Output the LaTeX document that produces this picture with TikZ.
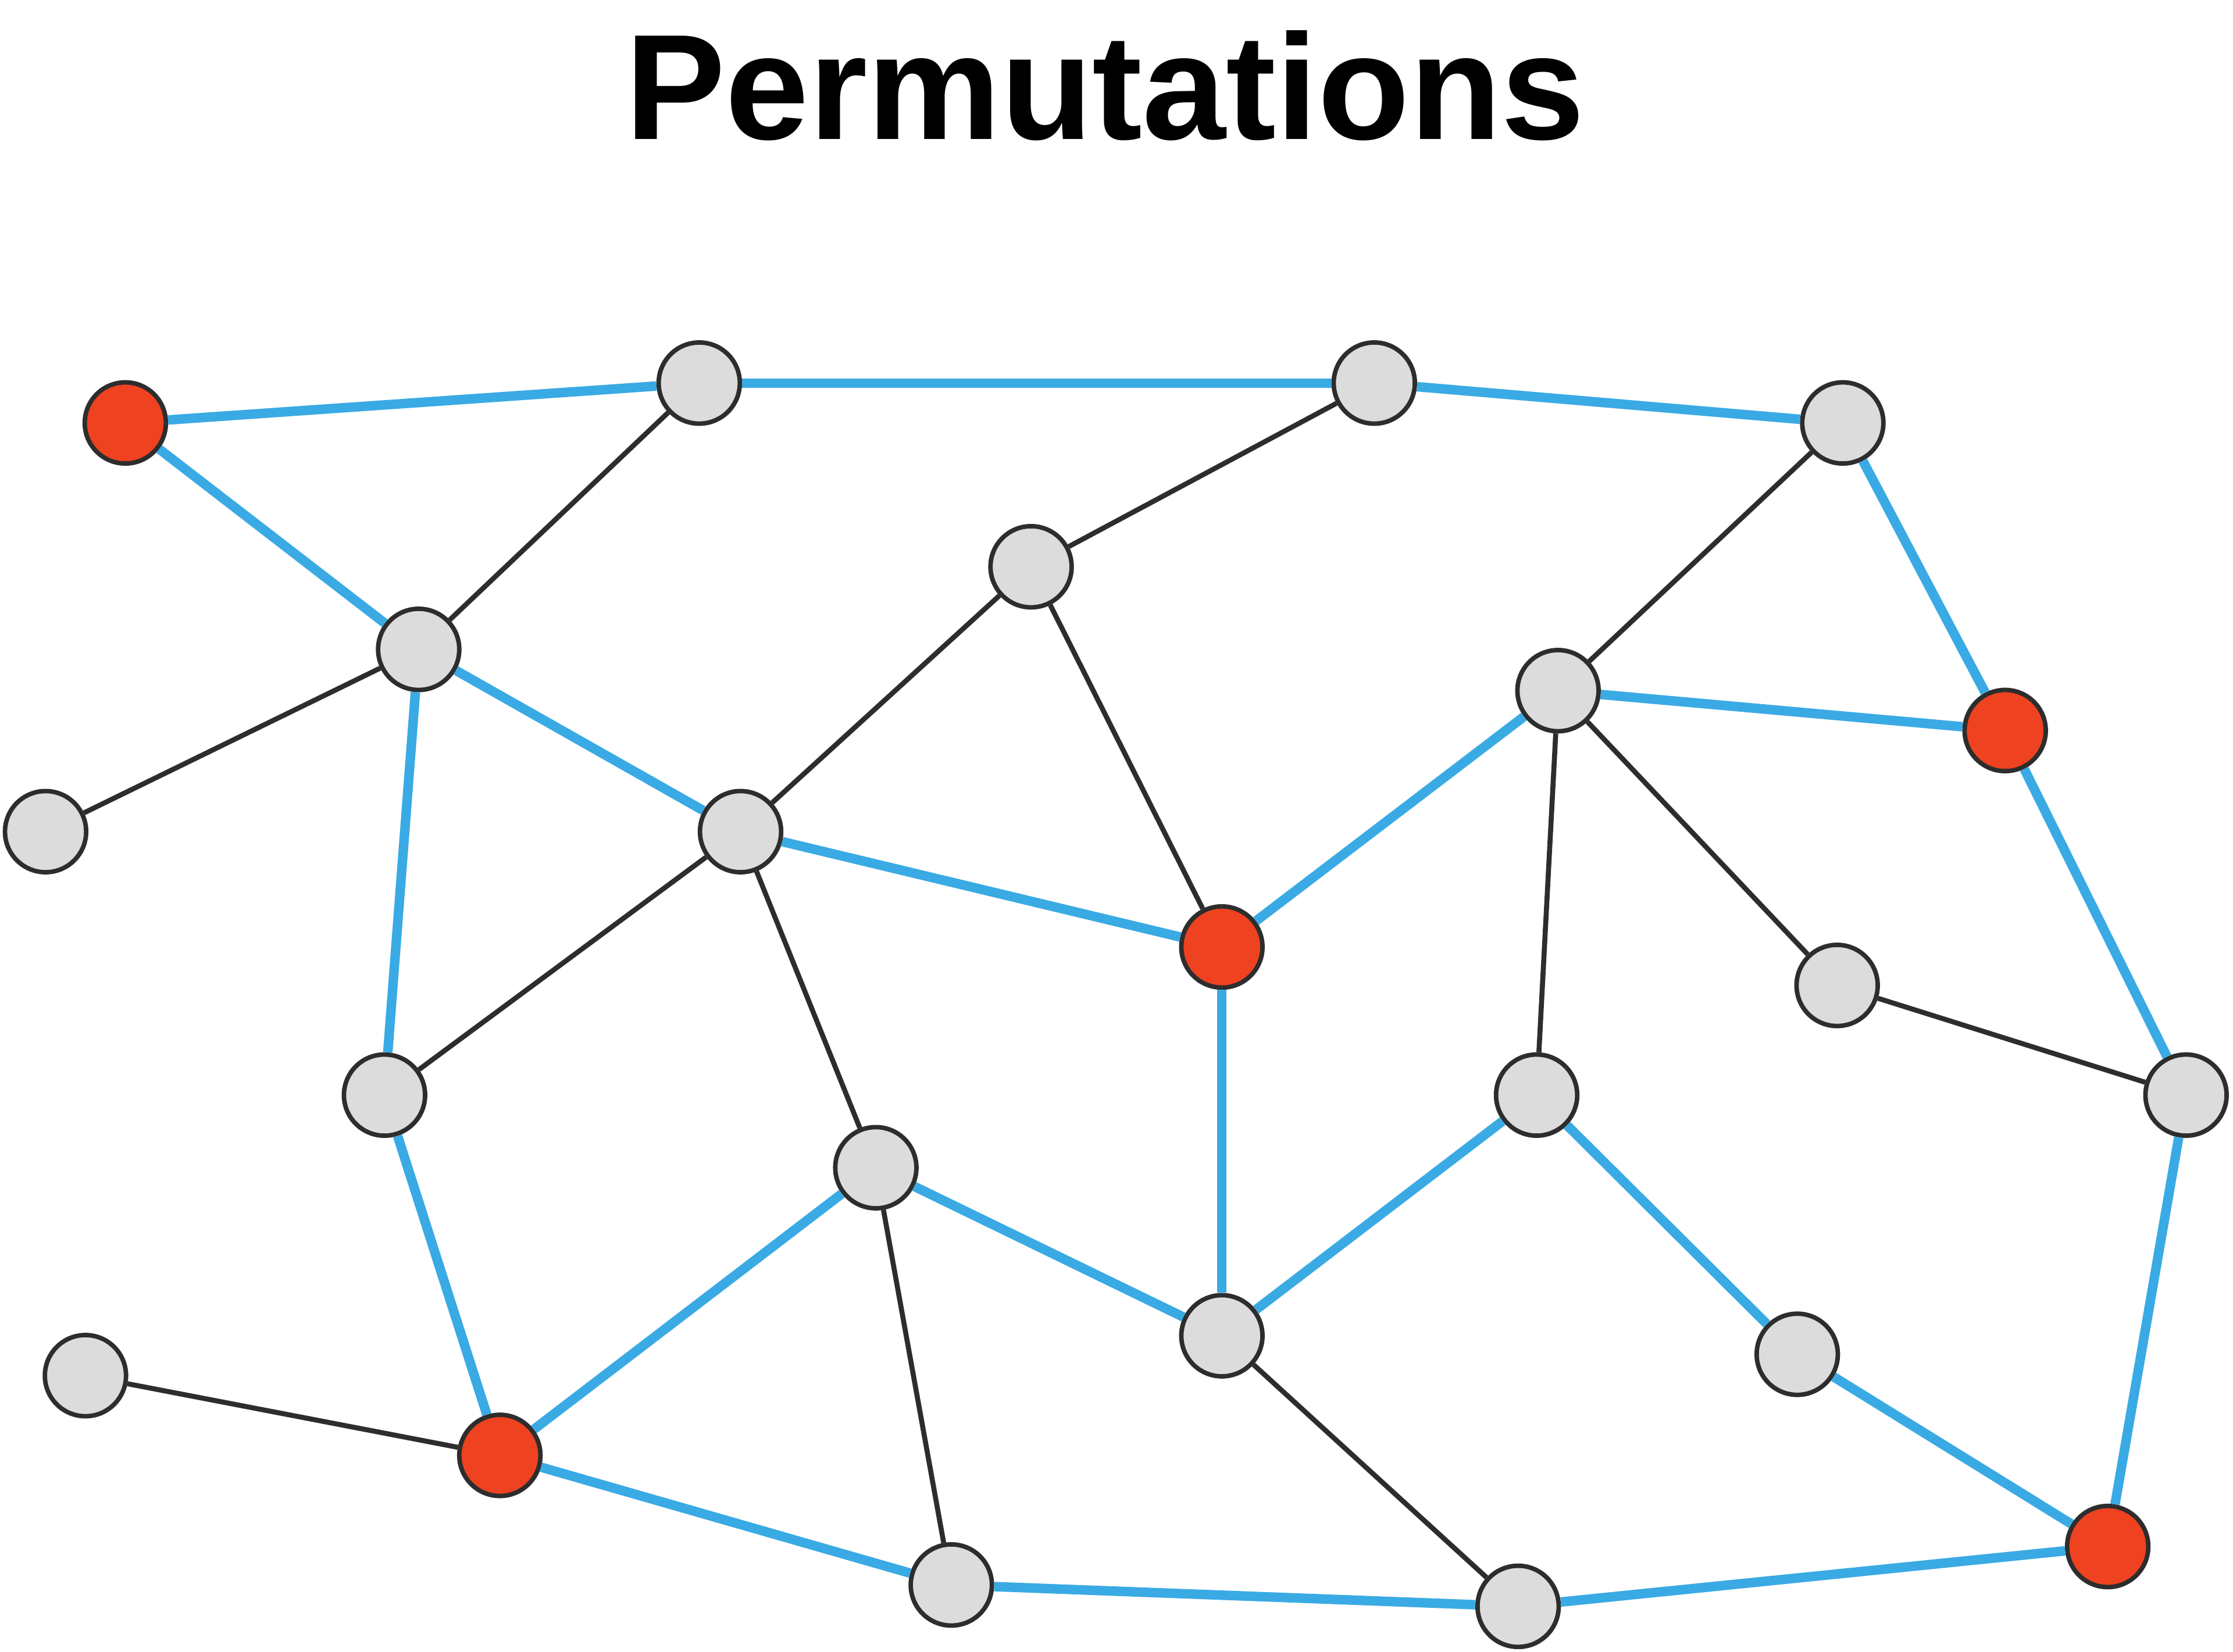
\documentclass[tikz,border=0pt]{standalone}
\usepackage{fontspec}
\setmainfont{Liberation Sans}
\definecolor{reddish}{RGB}{238,66,32}
\definecolor{bluish}{RGB}{58,170,228}
\definecolor{lightgrey}{RGB}{220,220,220}
\definecolor{ringgrey}{RGB}{45,45,45}

\begin{document}
\begin{tikzpicture}[
  x=1cm,y=1cm,
  vtx/.style={
    draw=ringgrey,
    circle,
    fill=lightgrey,
    line width=0.9pt,
    minimum size=0.57cm,
    inner sep=0pt,
  },
  hit/.style={
    vtx,
    fill=reddish
  },
  tour/.style={
    draw=bluish,
    line width=1.9pt
  },
  link/.style={
    draw=ringgrey,
    line width=1pt
  }
]
\useasboundingbox (0,0) rectangle (15.68,11.6);

% Title
\node[font=\bfseries\fontsize{30}{35}\selectfont] (title) at (7.76,11.0) {Permutations};

% Red nodes
\node[hit] (r1) at (0.88,8.63) {};
\node[hit] (r2) at (14.08,6.47) {};
\node[hit] (r3) at (8.58,4.95) {};
\node[hit] (r4) at (3.51,1.38) {};
\node[hit] (r5) at (14.80,0.74) {};

% Grey nodes
\node[vtx] (a) at (4.91,8.91) {};
\node[vtx] (b) at (9.65,8.91) {};
\node[vtx] (c) at (12.94,8.63) {};
\node[vtx] (d) at (7.24,7.62) {};
\node[vtx] (e) at (2.94,7.04) {};
\node[vtx] (f) at (10.94,6.75) {};
\node[vtx] (g) at (0.32,5.76) {};
\node[vtx] (h) at (5.20,5.76) {};
\node[vtx] (i) at (12.90,4.68) {};
\node[vtx] (j) at (2.70,3.91) {};
\node[vtx] (k) at (10.79,3.91) {};
\node[vtx] (l) at (15.35,3.91) {};
\node[vtx] (m) at (6.15,3.40) {};
\node[vtx] (n) at (8.58,2.22) {};
\node[vtx] (o) at (0.60,1.94) {};
\node[vtx] (p) at (12.62,2.09) {};
\node[vtx] (q) at (6.68,0.47) {};
\node[vtx] (s) at (10.66,0.32) {};

% Blue tour
\draw[tour] (r1) -- (a);
\draw[tour] (a) -- (b);
\draw[tour] (b) -- (c);
\draw[tour] (c) -- (r2);
\draw[tour] (r2) -- (l);
\draw[tour] (l) -- (r5);
\draw[tour] (r5) -- (p);
\draw[tour] (p) -- (k);
\draw[tour] (k) -- (n);
\draw[tour] (n) -- (r3);
\draw[tour] (r3) -- (f);
\draw[tour] (f) -- (r2);
\draw[tour] (r1) -- (e);
\draw[tour] (e) -- (h);
\draw[tour] (h) -- (r3);
\draw[tour] (e) -- (j);
\draw[tour] (j) -- (r4);
\draw[tour] (r4) -- (m);
\draw[tour] (m) -- (n);
\draw[tour] (r4) -- (q);
\draw[tour] (q) -- (s);
\draw[tour] (s) -- (r5);

% Black links
\draw[link] (a) -- (e);
\draw[link] (e) -- (g);
\draw[link] (b) -- (d);
\draw[link] (d) -- (h);
\draw[link] (d) -- (r3);
\draw[link] (c) -- (f);
\draw[link] (f) -- (k);
\draw[link] (f) -- (i);
\draw[link] (i) -- (l);
\draw[link] (h) -- (j);
\draw[link] (h) -- (m);
\draw[link] (m) -- (q);
\draw[link] (n) -- (s);
\draw[link] (o) -- (r4);

\end{tikzpicture}
\end{document}
